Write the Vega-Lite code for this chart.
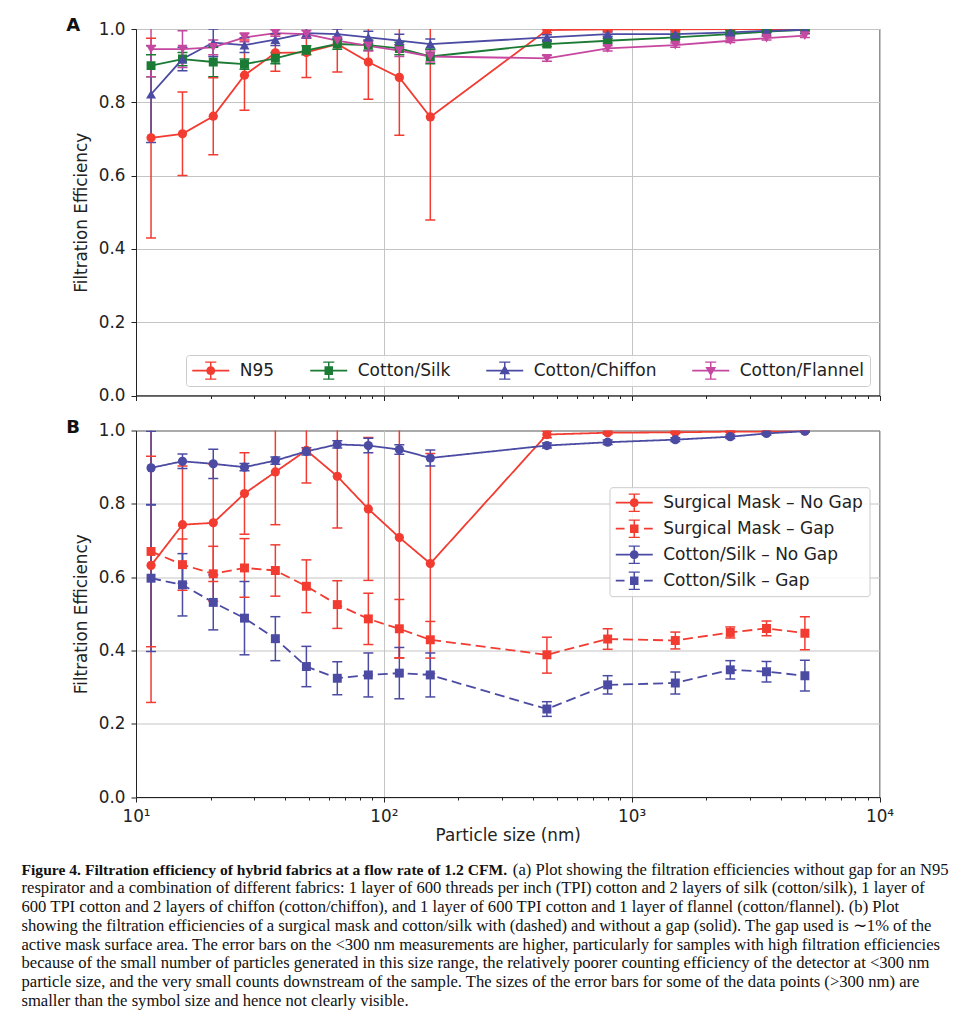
{
  "$schema": "https://vega.github.io/schema/vega-lite/v6.json",
  "autosize": {"type": "pad"},
  "padding": {"left": 21, "top": 16, "right": 0, "bottom": 0},
  "background": "white",
  "config": {
    "view": {"stroke": "#222222", "strokeWidth": 1},
    "axis": {
      "labelFont": "DejaVu Sans", "labelFontSize": 16.8, "labelColor": "#222222",
      "titleFont": "DejaVu Sans", "titleFontSize": 16.8, "titleFontWeight": "normal", "titleColor": "#222222",
      "domainColor": "#222222", "tickColor": "#222222", "gridColor": "#c4c4c4", "gridWidth": 1,
      "tickSize": 5, "labelPadding": 6
    }
  },
  "datasets": {
    "a": [
      {"series": "N95", "x": 11.5, "y": 0.703, "lo": 0.43, "hi": 0.975},
      {"series": "N95", "x": 15.4, "y": 0.714, "lo": 0.6, "hi": 0.828},
      {"series": "N95", "x": 20.5, "y": 0.762, "lo": 0.657, "hi": 0.867},
      {"series": "N95", "x": 27.4, "y": 0.874, "lo": 0.778, "hi": 0.97},
      {"series": "N95", "x": 36.5, "y": 0.935, "lo": 0.885, "hi": 0.985},
      {"series": "N95", "x": 48.7, "y": 0.936, "lo": 0.868, "hi": 1.004},
      {"series": "N95", "x": 64.9, "y": 0.959, "lo": 0.883, "hi": 1.035},
      {"series": "N95", "x": 86.6, "y": 0.91, "lo": 0.808, "hi": 1.012},
      {"series": "N95", "x": 115.5, "y": 0.868, "lo": 0.71, "hi": 1.026},
      {"series": "N95", "x": 154, "y": 0.76, "lo": 0.479, "hi": 1.04},
      {"series": "N95", "x": 455, "y": 0.997, "lo": 0.99, "hi": 1.0},
      {"series": "N95", "x": 800, "y": 0.999, "lo": 0.995, "hi": 1.0},
      {"series": "N95", "x": 1500, "y": 0.999, "lo": 0.996, "hi": 1.0},
      {"series": "N95", "x": 2500, "y": 0.9995, "lo": 0.998, "hi": 1.0},
      {"series": "N95", "x": 3500, "y": 1.0, "lo": 0.999, "hi": 1.0},
      {"series": "N95", "x": 5000, "y": 1.0, "lo": 0.999, "hi": 1.0},
      {"series": "Cotton/Silk", "x": 11.5, "y": 0.9, "lo": 0.87, "hi": 0.93},
      {"series": "Cotton/Silk", "x": 15.4, "y": 0.918, "lo": 0.9, "hi": 0.936},
      {"series": "Cotton/Silk", "x": 20.5, "y": 0.91, "lo": 0.87, "hi": 0.95},
      {"series": "Cotton/Silk", "x": 27.4, "y": 0.904, "lo": 0.89, "hi": 0.918},
      {"series": "Cotton/Silk", "x": 36.5, "y": 0.92, "lo": 0.905, "hi": 0.935},
      {"series": "Cotton/Silk", "x": 48.7, "y": 0.942, "lo": 0.93, "hi": 0.954},
      {"series": "Cotton/Silk", "x": 64.9, "y": 0.959, "lo": 0.945, "hi": 0.973},
      {"series": "Cotton/Silk", "x": 86.6, "y": 0.956, "lo": 0.942, "hi": 0.97},
      {"series": "Cotton/Silk", "x": 115.5, "y": 0.947, "lo": 0.93, "hi": 0.964},
      {"series": "Cotton/Silk", "x": 154, "y": 0.925, "lo": 0.905, "hi": 0.945},
      {"series": "Cotton/Silk", "x": 455, "y": 0.959, "lo": 0.952, "hi": 0.966},
      {"series": "Cotton/Silk", "x": 800, "y": 0.968, "lo": 0.962, "hi": 0.974},
      {"series": "Cotton/Silk", "x": 1500, "y": 0.977, "lo": 0.972, "hi": 0.982},
      {"series": "Cotton/Silk", "x": 2500, "y": 0.986, "lo": 0.982, "hi": 0.99},
      {"series": "Cotton/Silk", "x": 3500, "y": 0.993, "lo": 0.99, "hi": 0.996},
      {"series": "Cotton/Silk", "x": 5000, "y": 0.998, "lo": 0.996, "hi": 1.0},
      {"series": "Cotton/Chiffon", "x": 11.5, "y": 0.822, "lo": 0.69, "hi": 0.954},
      {"series": "Cotton/Chiffon", "x": 15.4, "y": 0.918, "lo": 0.886, "hi": 0.95},
      {"series": "Cotton/Chiffon", "x": 20.5, "y": 0.963, "lo": 0.925, "hi": 1.0},
      {"series": "Cotton/Chiffon", "x": 27.4, "y": 0.956, "lo": 0.936, "hi": 0.976},
      {"series": "Cotton/Chiffon", "x": 36.5, "y": 0.971, "lo": 0.955, "hi": 0.987},
      {"series": "Cotton/Chiffon", "x": 48.7, "y": 0.989, "lo": 0.975, "hi": 1.003},
      {"series": "Cotton/Chiffon", "x": 64.9, "y": 0.986, "lo": 0.972, "hi": 1.0},
      {"series": "Cotton/Chiffon", "x": 86.6, "y": 0.977, "lo": 0.96, "hi": 0.994},
      {"series": "Cotton/Chiffon", "x": 115.5, "y": 0.968, "lo": 0.95, "hi": 0.986},
      {"series": "Cotton/Chiffon", "x": 154, "y": 0.959, "lo": 0.945, "hi": 0.973},
      {"series": "Cotton/Chiffon", "x": 455, "y": 0.977, "lo": 0.97, "hi": 0.984},
      {"series": "Cotton/Chiffon", "x": 800, "y": 0.986, "lo": 0.98, "hi": 0.992},
      {"series": "Cotton/Chiffon", "x": 1500, "y": 0.986, "lo": 0.98, "hi": 0.992},
      {"series": "Cotton/Chiffon", "x": 2500, "y": 0.991, "lo": 0.987, "hi": 0.995},
      {"series": "Cotton/Chiffon", "x": 3500, "y": 0.995, "lo": 0.991, "hi": 0.999},
      {"series": "Cotton/Chiffon", "x": 5000, "y": 0.998, "lo": 0.995, "hi": 1.0},
      {"series": "Cotton/Flannel", "x": 11.5, "y": 0.945, "lo": 0.87, "hi": 1.02},
      {"series": "Cotton/Flannel", "x": 15.4, "y": 0.945, "lo": 0.895, "hi": 0.995},
      {"series": "Cotton/Flannel", "x": 20.5, "y": 0.95, "lo": 0.93, "hi": 0.97},
      {"series": "Cotton/Flannel", "x": 27.4, "y": 0.977, "lo": 0.965, "hi": 0.989},
      {"series": "Cotton/Flannel", "x": 36.5, "y": 0.989, "lo": 0.98, "hi": 0.998},
      {"series": "Cotton/Flannel", "x": 48.7, "y": 0.986, "lo": 0.976, "hi": 0.996},
      {"series": "Cotton/Flannel", "x": 64.9, "y": 0.968, "lo": 0.958, "hi": 0.978},
      {"series": "Cotton/Flannel", "x": 86.6, "y": 0.954, "lo": 0.94, "hi": 0.968},
      {"series": "Cotton/Flannel", "x": 115.5, "y": 0.941, "lo": 0.925, "hi": 0.957},
      {"series": "Cotton/Flannel", "x": 154, "y": 0.925, "lo": 0.91, "hi": 0.94},
      {"series": "Cotton/Flannel", "x": 455, "y": 0.92, "lo": 0.912, "hi": 0.928},
      {"series": "Cotton/Flannel", "x": 800, "y": 0.947, "lo": 0.94, "hi": 0.954},
      {"series": "Cotton/Flannel", "x": 1500, "y": 0.956, "lo": 0.95, "hi": 0.962},
      {"series": "Cotton/Flannel", "x": 2500, "y": 0.968, "lo": 0.963, "hi": 0.973},
      {"series": "Cotton/Flannel", "x": 3500, "y": 0.975, "lo": 0.97, "hi": 0.98},
      {"series": "Cotton/Flannel", "x": 5000, "y": 0.982, "lo": 0.977, "hi": 0.987}
    ],
    "b": [
      {"series": "Surgical Mask – No Gap", "x": 11.5, "y": 0.632, "lo": 0.258, "hi": 1.006},
      {"series": "Surgical Mask – No Gap", "x": 15.4, "y": 0.743, "lo": 0.583, "hi": 0.903},
      {"series": "Surgical Mask – No Gap", "x": 20.5, "y": 0.748, "lo": 0.588, "hi": 0.908},
      {"series": "Surgical Mask – No Gap", "x": 27.4, "y": 0.828, "lo": 0.717, "hi": 0.939},
      {"series": "Surgical Mask – No Gap", "x": 36.5, "y": 0.887, "lo": 0.743, "hi": 1.031},
      {"series": "Surgical Mask – No Gap", "x": 48.7, "y": 0.946, "lo": 0.857, "hi": 1.035},
      {"series": "Surgical Mask – No Gap", "x": 64.9, "y": 0.875, "lo": 0.734, "hi": 1.016},
      {"series": "Surgical Mask – No Gap", "x": 86.6, "y": 0.786, "lo": 0.591, "hi": 0.981},
      {"series": "Surgical Mask – No Gap", "x": 115.5, "y": 0.708, "lo": 0.38, "hi": 1.036},
      {"series": "Surgical Mask – No Gap", "x": 154, "y": 0.637, "lo": 0.337, "hi": 0.937},
      {"series": "Surgical Mask – No Gap", "x": 455, "y": 0.989, "lo": 0.98, "hi": 0.998},
      {"series": "Surgical Mask – No Gap", "x": 800, "y": 0.994, "lo": 0.99, "hi": 0.998},
      {"series": "Surgical Mask – No Gap", "x": 1500, "y": 0.995, "lo": 0.992, "hi": 0.998},
      {"series": "Surgical Mask – No Gap", "x": 2500, "y": 0.997, "lo": 0.995, "hi": 0.999},
      {"series": "Surgical Mask – No Gap", "x": 3500, "y": 0.997, "lo": 0.995, "hi": 0.999},
      {"series": "Surgical Mask – No Gap", "x": 5000, "y": 0.999, "lo": 0.997, "hi": 1.0},
      {"series": "Surgical Mask – Gap", "x": 11.5, "y": 0.67, "lo": 0.41, "hi": 0.93},
      {"series": "Surgical Mask – Gap", "x": 15.4, "y": 0.634, "lo": 0.564, "hi": 0.704},
      {"series": "Surgical Mask – Gap", "x": 20.5, "y": 0.609, "lo": 0.534, "hi": 0.684},
      {"series": "Surgical Mask – Gap", "x": 27.4, "y": 0.625, "lo": 0.545, "hi": 0.705},
      {"series": "Surgical Mask – Gap", "x": 36.5, "y": 0.618, "lo": 0.548, "hi": 0.688},
      {"series": "Surgical Mask – Gap", "x": 48.7, "y": 0.575, "lo": 0.503, "hi": 0.647},
      {"series": "Surgical Mask – Gap", "x": 64.9, "y": 0.525, "lo": 0.46, "hi": 0.59},
      {"series": "Surgical Mask – Gap", "x": 86.6, "y": 0.486, "lo": 0.416, "hi": 0.556},
      {"series": "Surgical Mask – Gap", "x": 115.5, "y": 0.459, "lo": 0.379, "hi": 0.539},
      {"series": "Surgical Mask – Gap", "x": 154, "y": 0.429, "lo": 0.379, "hi": 0.479},
      {"series": "Surgical Mask – Gap", "x": 455, "y": 0.388, "lo": 0.338, "hi": 0.436},
      {"series": "Surgical Mask – Gap", "x": 800, "y": 0.431, "lo": 0.403, "hi": 0.459},
      {"series": "Surgical Mask – Gap", "x": 1500, "y": 0.427, "lo": 0.404, "hi": 0.45},
      {"series": "Surgical Mask – Gap", "x": 2500, "y": 0.449, "lo": 0.434, "hi": 0.464},
      {"series": "Surgical Mask – Gap", "x": 3500, "y": 0.46, "lo": 0.44, "hi": 0.48},
      {"series": "Surgical Mask – Gap", "x": 5000, "y": 0.447, "lo": 0.402, "hi": 0.492},
      {"series": "Cotton/Silk – No Gap", "x": 11.5, "y": 0.898, "lo": 0.798, "hi": 0.998},
      {"series": "Cotton/Silk – No Gap", "x": 15.4, "y": 0.916, "lo": 0.896, "hi": 0.936},
      {"series": "Cotton/Silk – No Gap", "x": 20.5, "y": 0.909, "lo": 0.869, "hi": 0.949},
      {"series": "Cotton/Silk – No Gap", "x": 27.4, "y": 0.9, "lo": 0.89, "hi": 0.91},
      {"series": "Cotton/Silk – No Gap", "x": 36.5, "y": 0.918, "lo": 0.908, "hi": 0.928},
      {"series": "Cotton/Silk – No Gap", "x": 48.7, "y": 0.943, "lo": 0.933, "hi": 0.953},
      {"series": "Cotton/Silk – No Gap", "x": 64.9, "y": 0.962, "lo": 0.952, "hi": 0.972},
      {"series": "Cotton/Silk – No Gap", "x": 86.6, "y": 0.959, "lo": 0.939, "hi": 0.979},
      {"series": "Cotton/Silk – No Gap", "x": 115.5, "y": 0.948, "lo": 0.935, "hi": 0.961},
      {"series": "Cotton/Silk – No Gap", "x": 154, "y": 0.925, "lo": 0.903, "hi": 0.947},
      {"series": "Cotton/Silk – No Gap", "x": 455, "y": 0.959, "lo": 0.952, "hi": 0.966},
      {"series": "Cotton/Silk – No Gap", "x": 800, "y": 0.968, "lo": 0.962, "hi": 0.974},
      {"series": "Cotton/Silk – No Gap", "x": 1500, "y": 0.975, "lo": 0.97, "hi": 0.98},
      {"series": "Cotton/Silk – No Gap", "x": 2500, "y": 0.983, "lo": 0.978, "hi": 0.988},
      {"series": "Cotton/Silk – No Gap", "x": 3500, "y": 0.992, "lo": 0.988, "hi": 0.996},
      {"series": "Cotton/Silk – No Gap", "x": 5000, "y": 0.998, "lo": 0.995, "hi": 1.0},
      {"series": "Cotton/Silk – Gap", "x": 11.5, "y": 0.597, "lo": 0.397, "hi": 0.797},
      {"series": "Cotton/Silk – Gap", "x": 15.4, "y": 0.579, "lo": 0.494, "hi": 0.664},
      {"series": "Cotton/Silk – Gap", "x": 20.5, "y": 0.531, "lo": 0.456, "hi": 0.606},
      {"series": "Cotton/Silk – Gap", "x": 27.4, "y": 0.488, "lo": 0.388, "hi": 0.588},
      {"series": "Cotton/Silk – Gap", "x": 36.5, "y": 0.432, "lo": 0.372, "hi": 0.492},
      {"series": "Cotton/Silk – Gap", "x": 48.7, "y": 0.356, "lo": 0.301, "hi": 0.411},
      {"series": "Cotton/Silk – Gap", "x": 64.9, "y": 0.324, "lo": 0.279, "hi": 0.369},
      {"series": "Cotton/Silk – Gap", "x": 86.6, "y": 0.333, "lo": 0.273, "hi": 0.393},
      {"series": "Cotton/Silk – Gap", "x": 115.5, "y": 0.338, "lo": 0.268, "hi": 0.408},
      {"series": "Cotton/Silk – Gap", "x": 154, "y": 0.333, "lo": 0.273, "hi": 0.393},
      {"series": "Cotton/Silk – Gap", "x": 455, "y": 0.24, "lo": 0.22, "hi": 0.26},
      {"series": "Cotton/Silk – Gap", "x": 800, "y": 0.306, "lo": 0.281, "hi": 0.331},
      {"series": "Cotton/Silk – Gap", "x": 1500, "y": 0.311, "lo": 0.281, "hi": 0.341},
      {"series": "Cotton/Silk – Gap", "x": 2500, "y": 0.347, "lo": 0.322, "hi": 0.372},
      {"series": "Cotton/Silk – Gap", "x": 3500, "y": 0.342, "lo": 0.314, "hi": 0.37},
      {"series": "Cotton/Silk – Gap", "x": 5000, "y": 0.331, "lo": 0.289, "hi": 0.373}
    ],
    "cap": [
      {"line": 1, "part": "b", "pos": 0, "text": "Figure 4. Filtration efficiency of hybrid fabrics at a flow rate of 1.2 CFM."},
      {"line": 1, "part": "r", "pos": 1, "text": "(a) Plot showing the filtration efficiencies without gap for an N95"},
      {"line": 2, "part": "l", "pos": 0, "text": "respirator and a combination of different fabrics: 1 layer of 600 threads per inch (TPI) cotton and 2 layers of silk (cotton/silk), 1 layer of"},
      {"line": 3, "part": "l", "pos": 0, "text": "600 TPI cotton and 2 layers of chiffon (cotton/chiffon), and 1 layer of 600 TPI cotton and 1 layer of flannel (cotton/flannel). (b) Plot"},
      {"line": 4, "part": "l", "pos": 0, "text": "showing the filtration efficiencies of a surgical mask and cotton/silk with (dashed) and without a gap (solid). The gap used is ∼1% of the"},
      {"line": 5, "part": "l", "pos": 0, "text": "active mask surface area. The error bars on the <300 nm measurements are higher, particularly for samples with high filtration efficiencies"},
      {"line": 6, "part": "l", "pos": 0, "text": "because of the small number of particles generated in this size range, the relatively poorer counting efficiency of the detector at <300 nm"},
      {"line": 7, "part": "l", "pos": 0, "text": "particle size, and the very small counts downstream of the sample. The sizes of the error bars for some of the data points (>300 nm) are"},
      {"line": 8, "part": "l", "pos": 0, "text": "smaller than the symbol size and hence not clearly visible."}
    ]
  },
  "vconcat": [
    {
      "width": 743.5,
      "height": 366.5,
      "title": {"text": "A", "anchor": "start", "frame": "bounds", "font": "DejaVu Sans", "fontSize": 18, "fontWeight": "bold", "color": "#111111", "baseline": "alphabetic", "offset": 0, "dy": 28, "dx": -7},
      "data": {"name": "a"},
      "encoding": {
        "x": {
          "field": "x", "type": "quantitative",
          "scale": {"type": "log", "domain": [10, 10000]},
          "axis": {
            "title": null, "labels": false, "grid": true,
            "values": [10, 20, 30, 40, 50, 60, 70, 80, 90, 100, 200, 300, 400, 500, 600, 700, 800, 900, 1000, 2000, 3000, 4000, 5000, 6000, 7000, 8000, 9000, 10000],
            "tickSize": {"condition": {"test": "indexof([10, 100, 1000, 10000], datum.value) >= 0", "value": 5}, "value": 3},
            "gridOpacity": {"condition": {"test": "indexof([10, 100, 1000, 10000], datum.value) >= 0", "value": 1}, "value": 0}
          }
        },
        "color": {
          "field": "series", "type": "nominal",
          "scale": {"domain": ["N95", "Cotton/Silk", "Cotton/Chiffon", "Cotton/Flannel"], "range": ["#f23b31", "#1b7b34", "#4b4ba3", "#c6479f"]},
          "legend": {
            "title": null, "orient": "bottom-right", "offset": 10, "direction": "horizontal", "columns": 4,
            "symbolSize": 342, "symbolStrokeWidth": 0, "symbolOffset": 9.25, "labelOffset": 19.5,
            "labelFont": "DejaVu Sans", "labelFontSize": 17, "labelColor": "#222222", "labelLimit": 300,
            "padding": 6, "columnPadding": 35,
            "strokeColor": "#cccccc", "fillColor": "rgba(255,255,255,0.85)", "cornerRadius": 3,
            "encode": {
              "symbols": {
                "update": {
                  "shape": {"signal": "datum.value === 'N95' ? 'M-2,-0.09H2V0.09H-2ZM-0.08,-0.95H0.08V0.95H-0.08ZM-0.6,-1H0.6V-0.86H-0.6ZM-0.6,0.86H0.6V1H-0.6ZM-0.48,0A0.48,0.48,0,1,1,0.48,0A0.48,0.48,0,1,1,-0.48,0Z' : datum.value === 'Cotton/Silk' ? 'M-2,-0.09H2V0.09H-2ZM-0.08,-0.95H0.08V0.95H-0.08ZM-0.6,-1H0.6V-0.86H-0.6ZM-0.6,0.86H0.6V1H-0.6ZM-0.46,-0.46H0.46V0.46H-0.46Z' : datum.value === 'Cotton/Chiffon' ? 'M-2,-0.09H2V0.09H-2ZM-0.08,-0.95H0.08V0.95H-0.08ZM-0.6,-1H0.6V-0.86H-0.6ZM-0.6,0.86H0.6V1H-0.6ZM0,-0.62L0.58,0.4H-0.58Z' : 'M-2,-0.09H2V0.09H-2ZM-0.08,-0.95H0.08V0.95H-0.08ZM-0.6,-1H0.6V-0.86H-0.6ZM-0.6,0.86H0.6V1H-0.6ZM-0.58,-0.4H0.58L0,0.62Z'"},
                  "fill": {"signal": "datum.value === 'N95' ? '#f23b31' : datum.value === 'Cotton/Silk' ? '#1b7b34' : datum.value === 'Cotton/Chiffon' ? '#4b4ba3' : '#c6479f'"},
                  "opacity": {"value": 1},
                  "strokeWidth": {"value": 0}
                }
              }
            }
          }
        }
      },
      "layer": [
        {
          "mark": {"type": "line", "strokeWidth": 1.8, "clip": true},
          "encoding": {
            "y": {"field": "y", "type": "quantitative", "title": "Filtration Efficiency", "scale": {"domain": [0, 1]},
              "axis": {"values": [0, 0.2, 0.4, 0.6, 0.8, 1.0], "format": ".1f", "titlePadding": 8, "grid": true}}
          }
        },
        {
          "mark": {"type": "rule", "strokeWidth": 1.5, "clip": true},
          "encoding": {
            "y": {"field": "lo", "type": "quantitative", "title": "Filtration Efficiency"},
            "y2": {"field": "hi"}
          }
        },
        {
          "mark": {"type": "tick", "orient": "horizontal", "size": 10, "thickness": 1.5, "opacity": 1, "clip": true},
          "encoding": {"y": {"field": "lo", "type": "quantitative", "title": "Filtration Efficiency"}}
        },
        {
          "mark": {"type": "tick", "orient": "horizontal", "size": 10, "thickness": 1.5, "opacity": 1, "clip": true},
          "encoding": {"y": {"field": "hi", "type": "quantitative", "title": "Filtration Efficiency"}}
        },
        {
          "transform": [{"filter": "datum.series == 'N95'"}],
          "mark": {"type": "point", "shape": "circle", "filled": true, "size": 85, "opacity": 1, "clip": true},
          "encoding": {"y": {"field": "y", "type": "quantitative", "title": "Filtration Efficiency"}}
        },
        {
          "transform": [{"filter": "datum.series == 'Cotton/Silk'"}],
          "mark": {"type": "point", "shape": "square", "filled": true, "size": 80, "opacity": 1, "clip": true},
          "encoding": {"y": {"field": "y", "type": "quantitative", "title": "Filtration Efficiency"}}
        },
        {
          "transform": [{"filter": "datum.series == 'Cotton/Chiffon'"}],
          "mark": {"type": "point", "shape": "triangle-up", "filled": true, "size": 100, "opacity": 1, "clip": true},
          "encoding": {"y": {"field": "y", "type": "quantitative", "title": "Filtration Efficiency"}}
        },
        {
          "transform": [{"filter": "datum.series == 'Cotton/Flannel'"}],
          "mark": {"type": "point", "shape": "triangle-down", "filled": true, "size": 100, "opacity": 1, "clip": true},
          "encoding": {"y": {"field": "y", "type": "quantitative", "title": "Filtration Efficiency"}}
        }
      ]
    },
    {
      "width": 743.5,
      "height": 366.5,
      "title": {"text": "B", "anchor": "start", "frame": "bounds", "font": "DejaVu Sans", "fontSize": 18, "fontWeight": "bold", "color": "#111111", "baseline": "alphabetic", "offset": 0, "dy": 28, "dx": -7},
      "data": {"name": "b"},
      "encoding": {
        "x": {
          "field": "x", "type": "quantitative",
          "scale": {"type": "log", "domain": [10, 10000]},
          "axis": {
            "title": "Particle size (nm)", "grid": true, "labelFlush": false, "labelOverlap": false, "titlePadding": 3,
            "values": [10, 20, 30, 40, 50, 60, 70, 80, 90, 100, 200, 300, 400, 500, 600, 700, 800, 900, 1000, 2000, 3000, 4000, 5000, 6000, 7000, 8000, 9000, 10000],
            "labelExpr": "datum.value == 10 ? '10¹' : datum.value == 100 ? '10²' : datum.value == 1000 ? '10³' : datum.value == 10000 ? '10⁴' : ''",
            "tickSize": {"condition": {"test": "indexof([10, 100, 1000, 10000], datum.value) >= 0", "value": 5}, "value": 3},
            "gridOpacity": {"condition": {"test": "indexof([10, 100, 1000, 10000], datum.value) >= 0", "value": 1}, "value": 0}
          }
        },
        "color": {
          "field": "series", "type": "nominal",
          "scale": {"domain": ["Surgical Mask – No Gap", "Surgical Mask – Gap", "Cotton/Silk – No Gap", "Cotton/Silk – Gap"], "range": ["#f23b31", "#f23b31", "#4b4ba3", "#4b4ba3"]},
          "legend": {
            "title": null, "orient": "none", "legendX": 473.5, "legendY": 56.7, "direction": "vertical",
            "symbolSize": 342, "symbolStrokeWidth": 0, "symbolOffset": 9.25, "labelOffset": 19.5,
            "labelFont": "DejaVu Sans", "labelFontSize": 17, "labelColor": "#222222", "labelLimit": 300,
            "padding": 6, "rowPadding": 7,
            "strokeColor": "#cccccc", "fillColor": "rgba(255,255,255,0.85)", "cornerRadius": 3,
            "encode": {
              "symbols": {
                "update": {
                  "shape": {"signal": "indexof(datum.value, 'No Gap') >= 0 ? 'M-2,-0.09H2V0.09H-2ZM-0.08,-0.95H0.08V0.95H-0.08ZM-0.6,-1H0.6V-0.86H-0.6ZM-0.6,0.86H0.6V1H-0.6ZM-0.48,0A0.48,0.48,0,1,1,0.48,0A0.48,0.48,0,1,1,-0.48,0Z' : 'M-2,-0.09H-1.05V0.09H-2ZM1.05,-0.09H2V0.09H1.05ZM-0.08,-0.95H0.08V0.95H-0.08ZM-0.6,-1H0.6V-0.86H-0.6ZM-0.6,0.86H0.6V1H-0.6ZM-0.46,-0.46H0.46V0.46H-0.46Z'"},
                  "fill": {"signal": "indexof(datum.value, 'Surgical') >= 0 ? '#f23b31' : '#4b4ba3'"},
                  "opacity": {"value": 1},
                  "strokeWidth": {"value": 0}
                }
              }
            }
          }
        }
      },
      "layer": [
        {
          "mark": {"type": "line", "strokeWidth": 1.8, "clip": true},
          "encoding": {
            "y": {"field": "y", "type": "quantitative", "title": "Filtration Efficiency", "scale": {"domain": [0, 1]},
              "axis": {"values": [0, 0.2, 0.4, 0.6, 0.8, 1.0], "format": ".1f", "titlePadding": 8, "grid": true}},
            "strokeDash": {"field": "series", "type": "nominal", "legend": null,
              "scale": {"domain": ["Surgical Mask – No Gap", "Surgical Mask – Gap", "Cotton/Silk – No Gap", "Cotton/Silk – Gap"], "range": [[1, 0], [10, 5], [1, 0], [10, 5]]}}
          }
        },
        {
          "mark": {"type": "rule", "strokeWidth": 1.5, "clip": true},
          "encoding": {
            "y": {"field": "lo", "type": "quantitative", "title": "Filtration Efficiency"},
            "y2": {"field": "hi"}
          }
        },
        {
          "mark": {"type": "tick", "orient": "horizontal", "size": 10, "thickness": 1.5, "opacity": 1, "clip": true},
          "encoding": {"y": {"field": "lo", "type": "quantitative", "title": "Filtration Efficiency"}}
        },
        {
          "mark": {"type": "tick", "orient": "horizontal", "size": 10, "thickness": 1.5, "opacity": 1, "clip": true},
          "encoding": {"y": {"field": "hi", "type": "quantitative", "title": "Filtration Efficiency"}}
        },
        {
          "transform": [{"filter": "indexof(datum.series, 'No Gap') >= 0"}],
          "mark": {"type": "point", "shape": "circle", "filled": true, "size": 85, "opacity": 1, "clip": true},
          "encoding": {"y": {"field": "y", "type": "quantitative", "title": "Filtration Efficiency"}}
        },
        {
          "transform": [{"filter": "indexof(datum.series, 'No Gap') < 0"}],
          "mark": {"type": "point", "shape": "square", "filled": true, "size": 80, "opacity": 1, "clip": true},
          "encoding": {"y": {"field": "y", "type": "quantitative", "title": "Filtration Efficiency"}}
        }
      ]
    },
    {
      "width": 812.5,
      "height": 178,
      "view": {"stroke": null},
      "data": {"name": "cap"},
      "encoding": {
        "y": {"field": "line", "type": "quantitative", "axis": null, "scale": {"domain": [-1.02, 8.5], "reverse": true, "nice": false, "zero": false}},
        "x": {"field": "pos", "type": "quantitative", "axis": null, "scale": {"domain": [0, 1], "nice": false}},
        "text": {"field": "text", "type": "nominal"}
      },
      "layer": [
        {
          "transform": [{"filter": "datum.part == 'b'"}],
          "mark": {"type": "text", "align": "left", "baseline": "middle", "dx": -114.5, "font": "Liberation Serif", "fontSize": 15.6, "fontWeight": "bold", "color": "#111111"}
        },
        {
          "transform": [{"filter": "datum.part == 'l'"}],
          "mark": {"type": "text", "align": "left", "baseline": "middle", "dx": -114.5, "font": "Liberation Serif", "fontSize": 16.6, "color": "#111111"}
        },
        {
          "transform": [{"filter": "datum.part == 'r'"}],
          "mark": {"type": "text", "align": "right", "baseline": "middle", "font": "Liberation Serif", "fontSize": 16.6, "color": "#111111"}
        }
      ]
    }
  ],
  "spacing": 34.5,
  "bounds": "flush",
  "resolve": {
    "scale": {"x": "independent", "y": "independent", "color": "independent"},
    "legend": {"color": "independent"}
  }
}
